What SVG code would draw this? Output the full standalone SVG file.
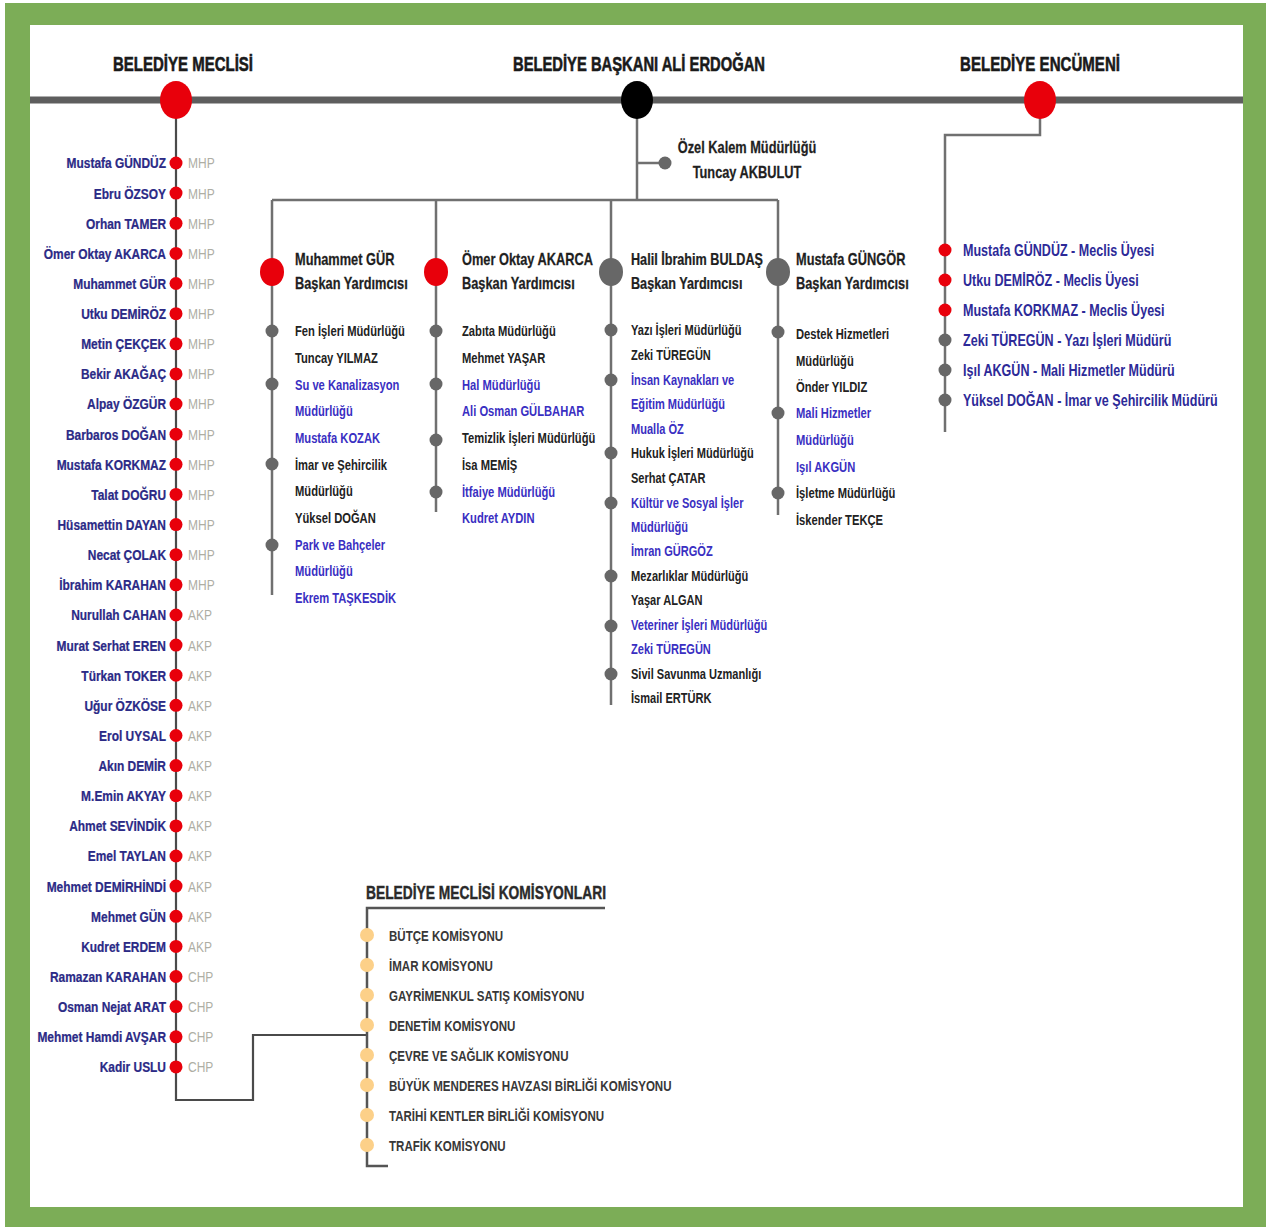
<svg xmlns="http://www.w3.org/2000/svg" width="1266" height="1227" viewBox="0 0 1266 1227">
<style>
text{font-family:"Liberation Sans",Arial,sans-serif;font-weight:bold}
.hd{font-size:21px;fill:#1a1a1a;stroke:#1a1a1a;stroke-width:0.6}
.nm{font-size:15.5px;fill:#2b2a86;text-anchor:end;stroke:#2b2a86;stroke-width:0.25}
.pt{font-size:15px;font-weight:normal;fill:#aeaea4}
.vp{font-size:16px;fill:#1f1f1f;stroke:#1f1f1f;stroke-width:0.25}
.it{font-size:14px;fill:#222}
.bl{fill:#3a2fc2}
.en{font-size:16px;fill:#2d2a98}
.km{font-size:15px;fill:#383838}
.kt{font-size:18px;fill:#2a2a2a;stroke:#2a2a2a;stroke-width:0.4}
.rd{fill:#e8000b}
.gd{fill:#676767}
.od{fill:#fcd089}
.ln{fill:none;stroke:#707070;stroke-width:2.5}
</style>
<rect x="5" y="3" width="1261" height="1224" fill="#7cad57"/>
<rect x="30" y="25" width="1213" height="1182" fill="#ffffff"/>

<g id="connectors">
<line x1="30" y1="100" x2="1243" y2="100" stroke="#5e5e5e" stroke-width="7"/>
<path class="ln" d="M176,100 V1100 H253 V1035 H367" style="stroke:#4a4a4a;stroke-width:2.2"/>
<path class="ln" d="M605,908 H367 V1166 H388" style="stroke:#555"/>
<path class="ln" d="M1040,100 V135 H945 V432"/>
<path class="ln" d="M637,100 V200 M637,163 H665 M272,200 H778 M272,200 V595 M436,200 V512 M611,200 V705 M778,200 V515"/>
</g>

<g id="belediye-meclisi">
<ellipse class="rd" cx="176" cy="100" rx="16" ry="19"/>
<text class="hd" x="113" y="71" textLength="140" lengthAdjust="spacingAndGlyphs">BELEDİYE MECLİSİ</text>
</g>
<g id="belediye-baskani">
<ellipse fill="#000" cx="637" cy="100" rx="16" ry="19"/>
<text class="hd" x="513" y="71" textLength="252" lengthAdjust="spacingAndGlyphs">BELEDİYE BAŞKANI ALİ ERDOĞAN</text>
</g>
<g id="belediye-encumeni">
<ellipse class="rd" cx="1040" cy="100" rx="16" ry="19"/>
<text class="hd" x="960" y="71" textLength="160" lengthAdjust="spacingAndGlyphs">BELEDİYE ENCÜMENİ</text>
</g>

<g id="meclis-uyeleri">
<g id="m01"><circle class="rd" cx="176" cy="163" r="6.5"/><text class="nm" transform="matrix(.77 0 0 1 166 0)" y="168.5">Mustafa GÜNDÜZ</text><text class="pt" transform="matrix(.8 0 0 1 188 0)" y="168.5">MHP</text></g>
<g id="m02"><circle class="rd" cx="176" cy="193.1" r="6.5"/><text class="nm" transform="matrix(.77 0 0 1 166 0)" y="198.6">Ebru ÖZSOY</text><text class="pt" transform="matrix(.8 0 0 1 188 0)" y="198.6">MHP</text></g>
<g id="m03"><circle class="rd" cx="176" cy="223.3" r="6.5"/><text class="nm" transform="matrix(.77 0 0 1 166 0)" y="228.8">Orhan TAMER</text><text class="pt" transform="matrix(.8 0 0 1 188 0)" y="228.8">MHP</text></g>
<g id="m04"><circle class="rd" cx="176" cy="253.4" r="6.5"/><text class="nm" transform="matrix(.77 0 0 1 166 0)" y="258.9">Ömer Oktay AKARCA</text><text class="pt" transform="matrix(.8 0 0 1 188 0)" y="258.9">MHP</text></g>
<g id="m05"><circle class="rd" cx="176" cy="283.5" r="6.5"/><text class="nm" transform="matrix(.77 0 0 1 166 0)" y="289">Muhammet GÜR</text><text class="pt" transform="matrix(.8 0 0 1 188 0)" y="289">MHP</text></g>
<g id="m06"><circle class="rd" cx="176" cy="313.7" r="6.5"/><text class="nm" transform="matrix(.77 0 0 1 166 0)" y="319.2">Utku DEMİRÖZ</text><text class="pt" transform="matrix(.8 0 0 1 188 0)" y="319.2">MHP</text></g>
<g id="m07"><circle class="rd" cx="176" cy="343.8" r="6.5"/><text class="nm" transform="matrix(.77 0 0 1 166 0)" y="349.3">Metin ÇEKÇEK</text><text class="pt" transform="matrix(.8 0 0 1 188 0)" y="349.3">MHP</text></g>
<g id="m08"><circle class="rd" cx="176" cy="373.9" r="6.5"/><text class="nm" transform="matrix(.77 0 0 1 166 0)" y="379.4">Bekir AKAĞAÇ</text><text class="pt" transform="matrix(.8 0 0 1 188 0)" y="379.4">MHP</text></g>
<g id="m09"><circle class="rd" cx="176" cy="404" r="6.5"/><text class="nm" transform="matrix(.77 0 0 1 166 0)" y="409.5">Alpay ÖZGÜR</text><text class="pt" transform="matrix(.8 0 0 1 188 0)" y="409.5">MHP</text></g>
<g id="m10"><circle class="rd" cx="176" cy="434.2" r="6.5"/><text class="nm" transform="matrix(.77 0 0 1 166 0)" y="439.7">Barbaros DOĞAN</text><text class="pt" transform="matrix(.8 0 0 1 188 0)" y="439.7">MHP</text></g>
<g id="m11"><circle class="rd" cx="176" cy="464.3" r="6.5"/><text class="nm" transform="matrix(.77 0 0 1 166 0)" y="469.8">Mustafa KORKMAZ</text><text class="pt" transform="matrix(.8 0 0 1 188 0)" y="469.8">MHP</text></g>
<g id="m12"><circle class="rd" cx="176" cy="494.4" r="6.5"/><text class="nm" transform="matrix(.77 0 0 1 166 0)" y="499.9">Talat DOĞRU</text><text class="pt" transform="matrix(.8 0 0 1 188 0)" y="499.9">MHP</text></g>
<g id="m13"><circle class="rd" cx="176" cy="524.6" r="6.5"/><text class="nm" transform="matrix(.77 0 0 1 166 0)" y="530.1">Hüsamettin DAYAN</text><text class="pt" transform="matrix(.8 0 0 1 188 0)" y="530.1">MHP</text></g>
<g id="m14"><circle class="rd" cx="176" cy="554.7" r="6.5"/><text class="nm" transform="matrix(.77 0 0 1 166 0)" y="560.2">Necat ÇOLAK</text><text class="pt" transform="matrix(.8 0 0 1 188 0)" y="560.2">MHP</text></g>
<g id="m15"><circle class="rd" cx="176" cy="584.8" r="6.5"/><text class="nm" transform="matrix(.77 0 0 1 166 0)" y="590.3">İbrahim KARAHAN</text><text class="pt" transform="matrix(.8 0 0 1 188 0)" y="590.3">MHP</text></g>
<g id="m16"><circle class="rd" cx="176" cy="615" r="6.5"/><text class="nm" transform="matrix(.77 0 0 1 166 0)" y="620.5">Nurullah CAHAN</text><text class="pt" transform="matrix(.8 0 0 1 188 0)" y="620.5">AKP</text></g>
<g id="m17"><circle class="rd" cx="176" cy="645.1" r="6.5"/><text class="nm" transform="matrix(.77 0 0 1 166 0)" y="650.6">Murat Serhat EREN</text><text class="pt" transform="matrix(.8 0 0 1 188 0)" y="650.6">AKP</text></g>
<g id="m18"><circle class="rd" cx="176" cy="675.2" r="6.5"/><text class="nm" transform="matrix(.77 0 0 1 166 0)" y="680.7">Türkan TOKER</text><text class="pt" transform="matrix(.8 0 0 1 188 0)" y="680.7">AKP</text></g>
<g id="m19"><circle class="rd" cx="176" cy="705.3" r="6.5"/><text class="nm" transform="matrix(.77 0 0 1 166 0)" y="710.8">Uğur ÖZKÖSE</text><text class="pt" transform="matrix(.8 0 0 1 188 0)" y="710.8">AKP</text></g>
<g id="m20"><circle class="rd" cx="176" cy="735.5" r="6.5"/><text class="nm" transform="matrix(.77 0 0 1 166 0)" y="741">Erol UYSAL</text><text class="pt" transform="matrix(.8 0 0 1 188 0)" y="741">AKP</text></g>
<g id="m21"><circle class="rd" cx="176" cy="765.6" r="6.5"/><text class="nm" transform="matrix(.77 0 0 1 166 0)" y="771.1">Akın DEMİR</text><text class="pt" transform="matrix(.8 0 0 1 188 0)" y="771.1">AKP</text></g>
<g id="m22"><circle class="rd" cx="176" cy="795.7" r="6.5"/><text class="nm" transform="matrix(.77 0 0 1 166 0)" y="801.2">M.Emin AKYAY</text><text class="pt" transform="matrix(.8 0 0 1 188 0)" y="801.2">AKP</text></g>
<g id="m23"><circle class="rd" cx="176" cy="825.9" r="6.5"/><text class="nm" transform="matrix(.77 0 0 1 166 0)" y="831.4">Ahmet SEVİNDİK</text><text class="pt" transform="matrix(.8 0 0 1 188 0)" y="831.4">AKP</text></g>
<g id="m24"><circle class="rd" cx="176" cy="856" r="6.5"/><text class="nm" transform="matrix(.77 0 0 1 166 0)" y="861.5">Emel TAYLAN</text><text class="pt" transform="matrix(.8 0 0 1 188 0)" y="861.5">AKP</text></g>
<g id="m25"><circle class="rd" cx="176" cy="886.1" r="6.5"/><text class="nm" transform="matrix(.77 0 0 1 166 0)" y="891.6">Mehmet DEMİRHİNDİ</text><text class="pt" transform="matrix(.8 0 0 1 188 0)" y="891.6">AKP</text></g>
<g id="m26"><circle class="rd" cx="176" cy="916.3" r="6.5"/><text class="nm" transform="matrix(.77 0 0 1 166 0)" y="921.8">Mehmet GÜN</text><text class="pt" transform="matrix(.8 0 0 1 188 0)" y="921.8">AKP</text></g>
<g id="m27"><circle class="rd" cx="176" cy="946.4" r="6.5"/><text class="nm" transform="matrix(.77 0 0 1 166 0)" y="951.9">Kudret ERDEM</text><text class="pt" transform="matrix(.8 0 0 1 188 0)" y="951.9">AKP</text></g>
<g id="m28"><circle class="rd" cx="176" cy="976.5" r="6.5"/><text class="nm" transform="matrix(.77 0 0 1 166 0)" y="982">Ramazan KARAHAN</text><text class="pt" transform="matrix(.8 0 0 1 188 0)" y="982">CHP</text></g>
<g id="m29"><circle class="rd" cx="176" cy="1006.6" r="6.5"/><text class="nm" transform="matrix(.77 0 0 1 166 0)" y="1012.1">Osman Nejat ARAT</text><text class="pt" transform="matrix(.8 0 0 1 188 0)" y="1012.1">CHP</text></g>
<g id="m30"><circle class="rd" cx="176" cy="1036.8" r="6.5"/><text class="nm" transform="matrix(.77 0 0 1 166 0)" y="1042.3">Mehmet Hamdi AVŞAR</text><text class="pt" transform="matrix(.8 0 0 1 188 0)" y="1042.3">CHP</text></g>
<g id="m31"><circle class="rd" cx="176" cy="1066.9" r="6.5"/><text class="nm" transform="matrix(.77 0 0 1 166 0)" y="1072.4">Kadir USLU</text><text class="pt" transform="matrix(.8 0 0 1 188 0)" y="1072.4">CHP</text></g>
</g>

<g id="ozel-kalem">
<circle class="gd" cx="665" cy="163" r="6.5"/>
<text class="vp" transform="matrix(.8 0 0 1 747 0)" y="153" text-anchor="middle">Özel Kalem Müdürlüğü</text>
<text class="vp" transform="matrix(.8 0 0 1 747 0)" y="178" text-anchor="middle">Tuncay AKBULUT</text>
</g>

<g id="vp-muhammet-gur">
<ellipse class="rd" cx="272" cy="272" rx="12" ry="14"/>
<g transform="matrix(.8 0 0 1 295 0)">
<text class="vp" y="265">Muhammet GÜR</text>
<text class="vp" y="289">Başkan Yardımcısı</text>
<text class="it" y="336">Fen İşleri Müdürlüğü</text>
<text class="it" y="363">Tuncay YILMAZ</text>
<text class="it bl" y="390">Su ve Kanalizasyon</text>
<text class="it bl" y="416">Müdürlüğü</text>
<text class="it bl" y="443">Mustafa KOZAK</text>
<text class="it" y="470">İmar ve Şehircilik</text>
<text class="it" y="496">Müdürlüğü</text>
<text class="it" y="523">Yüksel DOĞAN</text>
<text class="it bl" y="550">Park ve Bahçeler</text>
<text class="it bl" y="576">Müdürlüğü</text>
<text class="it bl" y="603">Ekrem TAŞKESDİK</text>
</g>
<circle class="gd" cx="272" cy="331" r="6.5"/>
<circle class="gd" cx="272" cy="384" r="6.5"/>
<circle class="gd" cx="272" cy="464" r="6.5"/>
<circle class="gd" cx="272" cy="545" r="6.5"/>
</g>

<g id="vp-omer-oktay-akarca">
<ellipse class="rd" cx="436" cy="272" rx="12" ry="14"/>
<g transform="matrix(.8 0 0 1 462 0)">
<text class="vp" y="265">Ömer Oktay AKARCA</text>
<text class="vp" y="289">Başkan Yardımcısı</text>
<text class="it" y="336">Zabıta Müdürlüğü</text>
<text class="it" y="363">Mehmet YAŞAR</text>
<text class="it bl" y="390">Hal Müdürlüğü</text>
<text class="it bl" y="416">Ali Osman GÜLBAHAR</text>
<text class="it" y="443">Temizlik İşleri Müdürlüğü</text>
<text class="it" y="470">İsa MEMİŞ</text>
<text class="it bl" y="497">İtfaiye Müdürlüğü</text>
<text class="it bl" y="523">Kudret AYDIN</text>
</g>
<circle class="gd" cx="436" cy="331" r="6.5"/>
<circle class="gd" cx="436" cy="384" r="6.5"/>
<circle class="gd" cx="436" cy="440" r="6.5"/>
<circle class="gd" cx="436" cy="492" r="6.5"/>
</g>

<g id="vp-halil-ibrahim-buldas">
<ellipse class="gd" cx="611" cy="272" rx="12" ry="14"/>
<g transform="matrix(.79 0 0 1 631 0)">
<text class="vp" y="265">Halil İbrahim BULDAŞ</text>
<text class="vp" y="289">Başkan Yardımcısı</text>
<text class="it" y="335">Yazı İşleri Müdürlüğü</text>
<text class="it" y="360">Zeki TÜREGÜN</text>
<text class="it bl" y="385">İnsan Kaynakları ve</text>
<text class="it bl" y="409">Eğitim Müdürlüğü</text>
<text class="it bl" y="434">Mualla ÖZ</text>
<text class="it" y="458">Hukuk İşleri Müdürlüğü</text>
<text class="it" y="483">Serhat ÇATAR</text>
<text class="it bl" y="508">Kültür ve Sosyal İşler</text>
<text class="it bl" y="532">Müdürlüğü</text>
<text class="it bl" y="556">İmran GÜRGÖZ</text>
<text class="it" y="581">Mezarlıklar Müdürlüğü</text>
<text class="it" y="605">Yaşar ALGAN</text>
<text class="it bl" y="630">Veteriner İşleri Müdürlüğü</text>
<text class="it bl" y="654">Zeki TÜREGÜN</text>
<text class="it" y="679">Sivil Savunma Uzmanlığı</text>
<text class="it" y="703">İsmail ERTÜRK</text>
</g>
<circle class="gd" cx="611" cy="330" r="6.5"/>
<circle class="gd" cx="611" cy="380" r="6.5"/>
<circle class="gd" cx="611" cy="453" r="6.5"/>
<circle class="gd" cx="611" cy="503" r="6.5"/>
<circle class="gd" cx="611" cy="576" r="6.5"/>
<circle class="gd" cx="611" cy="626" r="6.5"/>
<circle class="gd" cx="611" cy="674" r="6.5"/>
</g>

<g id="vp-mustafa-gungor">
<ellipse class="gd" cx="778" cy="272" rx="12" ry="14"/>
<g transform="matrix(.8 0 0 1 796 0)">
<text class="vp" y="265">Mustafa GÜNGÖR</text>
<text class="vp" y="289">Başkan Yardımcısı</text>
<text class="it" y="339">Destek Hizmetleri</text>
<text class="it" y="366">Müdürlüğü</text>
<text class="it" y="392">Önder YILDIZ</text>
<text class="it bl" y="418">Mali Hizmetler</text>
<text class="it bl" y="445">Müdürlüğü</text>
<text class="it bl" y="472">Işıl AKGÜN</text>
<text class="it" y="498">İşletme Müdürlüğü</text>
<text class="it" y="525">İskender TEKÇE</text>
</g>
<circle class="gd" cx="778" cy="332" r="6.5"/>
<circle class="gd" cx="778" cy="413" r="6.5"/>
<circle class="gd" cx="778" cy="493" r="6.5"/>
</g>

<g id="encumen-uyeleri">
<circle class="rd" cx="945" cy="250" r="6.5"/>
<circle class="rd" cx="945" cy="280" r="6.5"/>
<circle class="rd" cx="945" cy="310" r="6.5"/>
<circle class="gd" cx="945" cy="340" r="6.5"/>
<circle class="gd" cx="945" cy="370" r="6.5"/>
<circle class="gd" cx="945" cy="400" r="6.5"/>
<g transform="matrix(.785 0 0 1 963 0)">
<text class="en" y="256">Mustafa GÜNDÜZ - Meclis Üyesi</text>
<text class="en" y="286">Utku DEMİRÖZ - Meclis Üyesi</text>
<text class="en" y="316">Mustafa KORKMAZ - Meclis Üyesi</text>
<text class="en" y="346">Zeki TÜREGÜN - Yazı İşleri Müdürü</text>
<text class="en" y="376">Işıl AKGÜN - Mali Hizmetler Müdürü</text>
<text class="en" y="406">Yüksel DOĞAN - İmar ve Şehircilik Müdürü</text>
</g>
</g>

<g id="meclis-komisyonlari">
<text class="kt" x="366" y="899" textLength="240" lengthAdjust="spacingAndGlyphs">BELEDİYE MECLİSİ KOMİSYONLARI</text>
<circle class="od" cx="367" cy="935" r="7"/>
<circle class="od" cx="367" cy="965" r="7"/>
<circle class="od" cx="367" cy="995" r="7"/>
<circle class="od" cx="367" cy="1025" r="7"/>
<circle class="od" cx="367" cy="1055" r="7"/>
<circle class="od" cx="367" cy="1085" r="7"/>
<circle class="od" cx="367" cy="1115" r="7"/>
<circle class="od" cx="367" cy="1145" r="7"/>
<g transform="matrix(.77 0 0 1 389 0)">
<text class="km" y="941">BÜTÇE KOMİSYONU</text>
<text class="km" y="971">İMAR KOMİSYONU</text>
<text class="km" y="1001">GAYRİMENKUL SATIŞ KOMİSYONU</text>
<text class="km" y="1031">DENETİM KOMİSYONU</text>
<text class="km" y="1061">ÇEVRE VE SAĞLIK KOMİSYONU</text>
<text class="km" y="1091">BÜYÜK MENDERES HAVZASI BİRLİĞİ KOMİSYONU</text>
<text class="km" y="1121">TARİHİ KENTLER BİRLİĞİ KOMİSYONU</text>
<text class="km" y="1151">TRAFİK KOMİSYONU</text>
</g>
</g>
</svg>
